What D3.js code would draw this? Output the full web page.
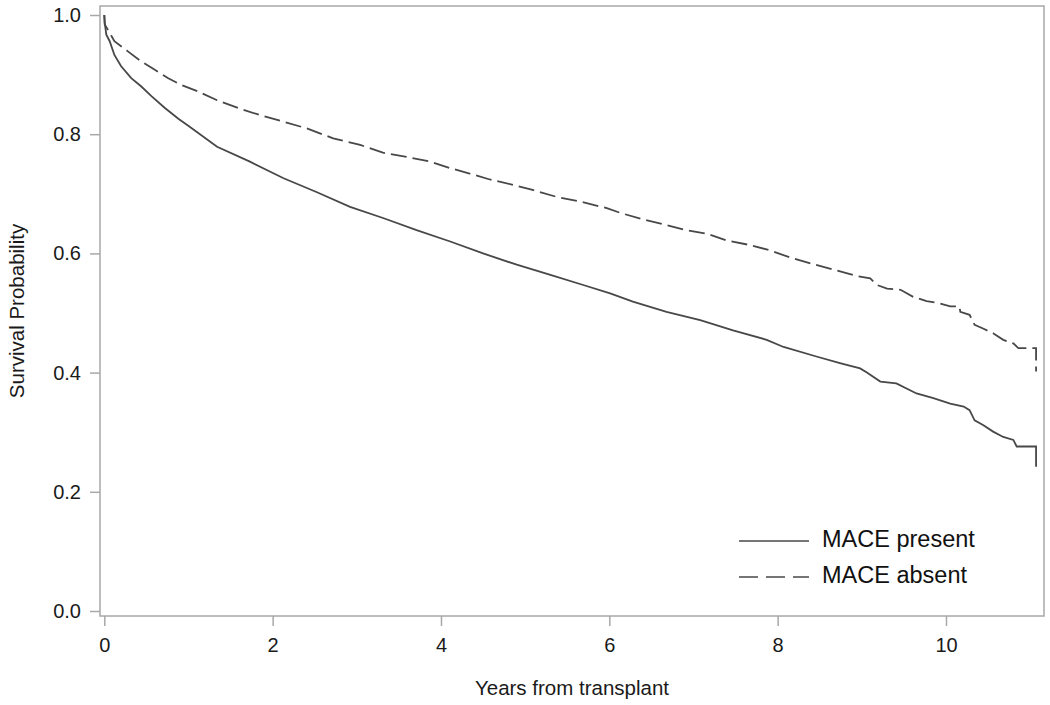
<!DOCTYPE html>
<html>
<head>
<meta charset="utf-8">
<script src="https://cdn.jsdelivr.net/npm/d3@7"></script>
<style>
  html, body { margin: 0; padding: 0; background: #fff; }
  svg { display: block; font-family: "Liberation Sans", Arial, sans-serif; }
</style>
</head>
<body>
<svg id="chart" width="1050" height="705"></svg>
<script>
// ---- Data ----
const seriesNames = ["MACE present", "MACE absent"];

const presentTime = [0, 0.005, 0.024, 0.064, 0.12, 0.20, 0.32, 0.44, 0.56, 0.72, 0.88, 1.01, 1.34, 1.73, 2.13, 2.52, 2.92, 3.32, 3.71, 4.11, 4.50, 4.90, 5.30, 5.69, 6.01, 6.28, 6.68, 7.08, 7.47, 7.87, 8.07, 8.46, 8.74, 8.98, 9.06, 9.22, 9.41, 9.65, 9.85, 10.05, 10.21, 10.28, 10.34, 10.44, 10.56, 10.68, 10.80, 10.84, 11.07, 11.07];
const presentSurv = [1.0, 0.987, 0.967, 0.956, 0.933, 0.914, 0.894, 0.880, 0.864, 0.844, 0.826, 0.813, 0.779, 0.754, 0.726, 0.703, 0.678, 0.659, 0.639, 0.620, 0.600, 0.581, 0.564, 0.547, 0.533, 0.519, 0.502, 0.488, 0.471, 0.455, 0.443, 0.427, 0.416, 0.407, 0.400, 0.385, 0.382, 0.365, 0.357, 0.348, 0.343, 0.337, 0.320, 0.312, 0.301, 0.292, 0.287, 0.276, 0.276, 0.242];

const absentTime = [0, 0.005, 0.044, 0.12, 0.28, 0.44, 0.60, 0.76, 0.91, 1.11, 1.34, 1.61, 1.85, 2.13, 2.40, 2.72, 3.04, 3.31, 3.59, 3.87, 4.11, 4.34, 4.58, 4.86, 5.10, 5.37, 5.65, 5.97, 6.13, 6.40, 6.64, 6.88, 7.16, 7.39, 7.67, 7.91, 8.15, 8.42, 8.66, 8.94, 9.10, 9.18, 9.30, 9.46, 9.61, 9.77, 9.93, 10.05, 10.16, 10.17, 10.28, 10.34, 10.44, 10.56, 10.68, 10.80, 10.86, 11.07, 11.07];
const absentSurv = [1.0, 0.984, 0.975, 0.956, 0.939, 0.922, 0.908, 0.894, 0.883, 0.872, 0.857, 0.843, 0.832, 0.821, 0.810, 0.793, 0.782, 0.769, 0.762, 0.754, 0.743, 0.734, 0.724, 0.715, 0.706, 0.695, 0.687, 0.676, 0.668, 0.657, 0.649, 0.640, 0.633, 0.622, 0.614, 0.605, 0.593, 0.582, 0.573, 0.562, 0.558, 0.547, 0.541, 0.539, 0.527, 0.520, 0.516, 0.511, 0.511, 0.502, 0.497, 0.480, 0.474, 0.466, 0.455, 0.449, 0.441, 0.441, 0.402];

const xTicks = [0, 2, 4, 6, 8, 10];
const yTicks = [0.0, 0.2, 0.4, 0.6, 0.8, 1.0];
const xTitle = "Years from transplant";
const yTitle = "Survival Probability";

// ---- Layout ----
const frame = { left: 100, right: 1044, top: 6, bottom: 616 };
const lineColor = "#484848";
const frameColor = "#a8a8a8";
const fontFam = "'Liberation Sans', Arial, sans-serif";

const svg = d3.select("#chart");

const x = d3.scaleLinear().domain([0, 10]).range([104.3, 946]);
const y = d3.scaleLinear().domain([0, 1]).range([611, 15]);

// frame
svg.append("rect")
  .attr("x", frame.left).attr("y", frame.top)
  .attr("width", frame.right - frame.left)
  .attr("height", frame.bottom - frame.top)
  .attr("fill", "none").attr("stroke", frameColor).attr("stroke-width", 1.5);

// y axis
const yAxis = svg.append("g")
  .attr("transform", `translate(${frame.left},0)`)
  .call(d3.axisLeft(y).tickValues(yTicks).tickFormat(d3.format(".1f")).tickSize(10).tickPadding(9));
yAxis.select(".domain").remove();
yAxis.selectAll(".tick line").attr("stroke", frameColor).attr("stroke-width", 1.5);
yAxis.selectAll(".tick text").attr("fill", "#1a1a1a").style("font-size", "20px")
  .style("font-family", fontFam);

// x axis
const xAxis = svg.append("g")
  .attr("transform", `translate(0,${frame.bottom})`)
  .call(d3.axisBottom(x).tickValues(xTicks).tickFormat(d3.format("d")).tickSize(10).tickPadding(12));
xAxis.select(".domain").remove();
xAxis.selectAll(".tick line").attr("stroke", frameColor).attr("stroke-width", 1.5);
xAxis.selectAll(".tick text").attr("fill", "#1a1a1a").style("font-size", "20px")
  .style("font-family", fontFam);

// axis titles
svg.append("text")
  .attr("x", (frame.left + frame.right) / 2).attr("y", 695)
  .attr("text-anchor", "middle")
  .style("font-size", "20.5px").attr("fill", "#1a1a1a")
  .text(xTitle);

svg.append("text")
  .attr("transform", `translate(24,${(frame.top + frame.bottom) / 2}) rotate(-90)`)
  .attr("text-anchor", "middle")
  .style("font-size", "20.5px").attr("fill", "#1a1a1a")
  .text(yTitle);

// curves
const line = d3.line().x(d => x(d[0])).y(d => y(d[1])).curve(d3.curveLinear);
const presentData = presentTime.map((t, i) => [t, presentSurv[i]]);
const absentData = absentTime.map((t, i) => [t, absentSurv[i]]);

svg.append("path").datum(presentData)
  .attr("d", line).attr("fill", "none")
  .attr("stroke", lineColor).attr("stroke-width", 1.8);

svg.append("path").datum(absentData)
  .attr("d", line).attr("fill", "none")
  .attr("stroke", lineColor).attr("stroke-width", 1.8)
  .attr("stroke-dasharray", "16,6");

// legend
const legend = svg.append("g");
const legendItems = [
  { name: seriesNames[0], dash: null, yy: 541 },
  { name: seriesNames[1], dash: "19,8", yy: 577 }
];
legendItems.forEach(it => {
  legend.append("line")
    .attr("x1", 739).attr("x2", 809).attr("y1", it.yy).attr("y2", it.yy)
    .attr("stroke", lineColor).attr("stroke-width", 1.6)
    .attr("stroke-dasharray", it.dash);
  legend.append("text")
    .attr("x", 822).attr("y", it.yy - 2).attr("dy", "0.35em")
    .style("font-size", "23.5px").attr("fill", "#111")
    .text(it.name);
});
</script>
</body>
</html>
